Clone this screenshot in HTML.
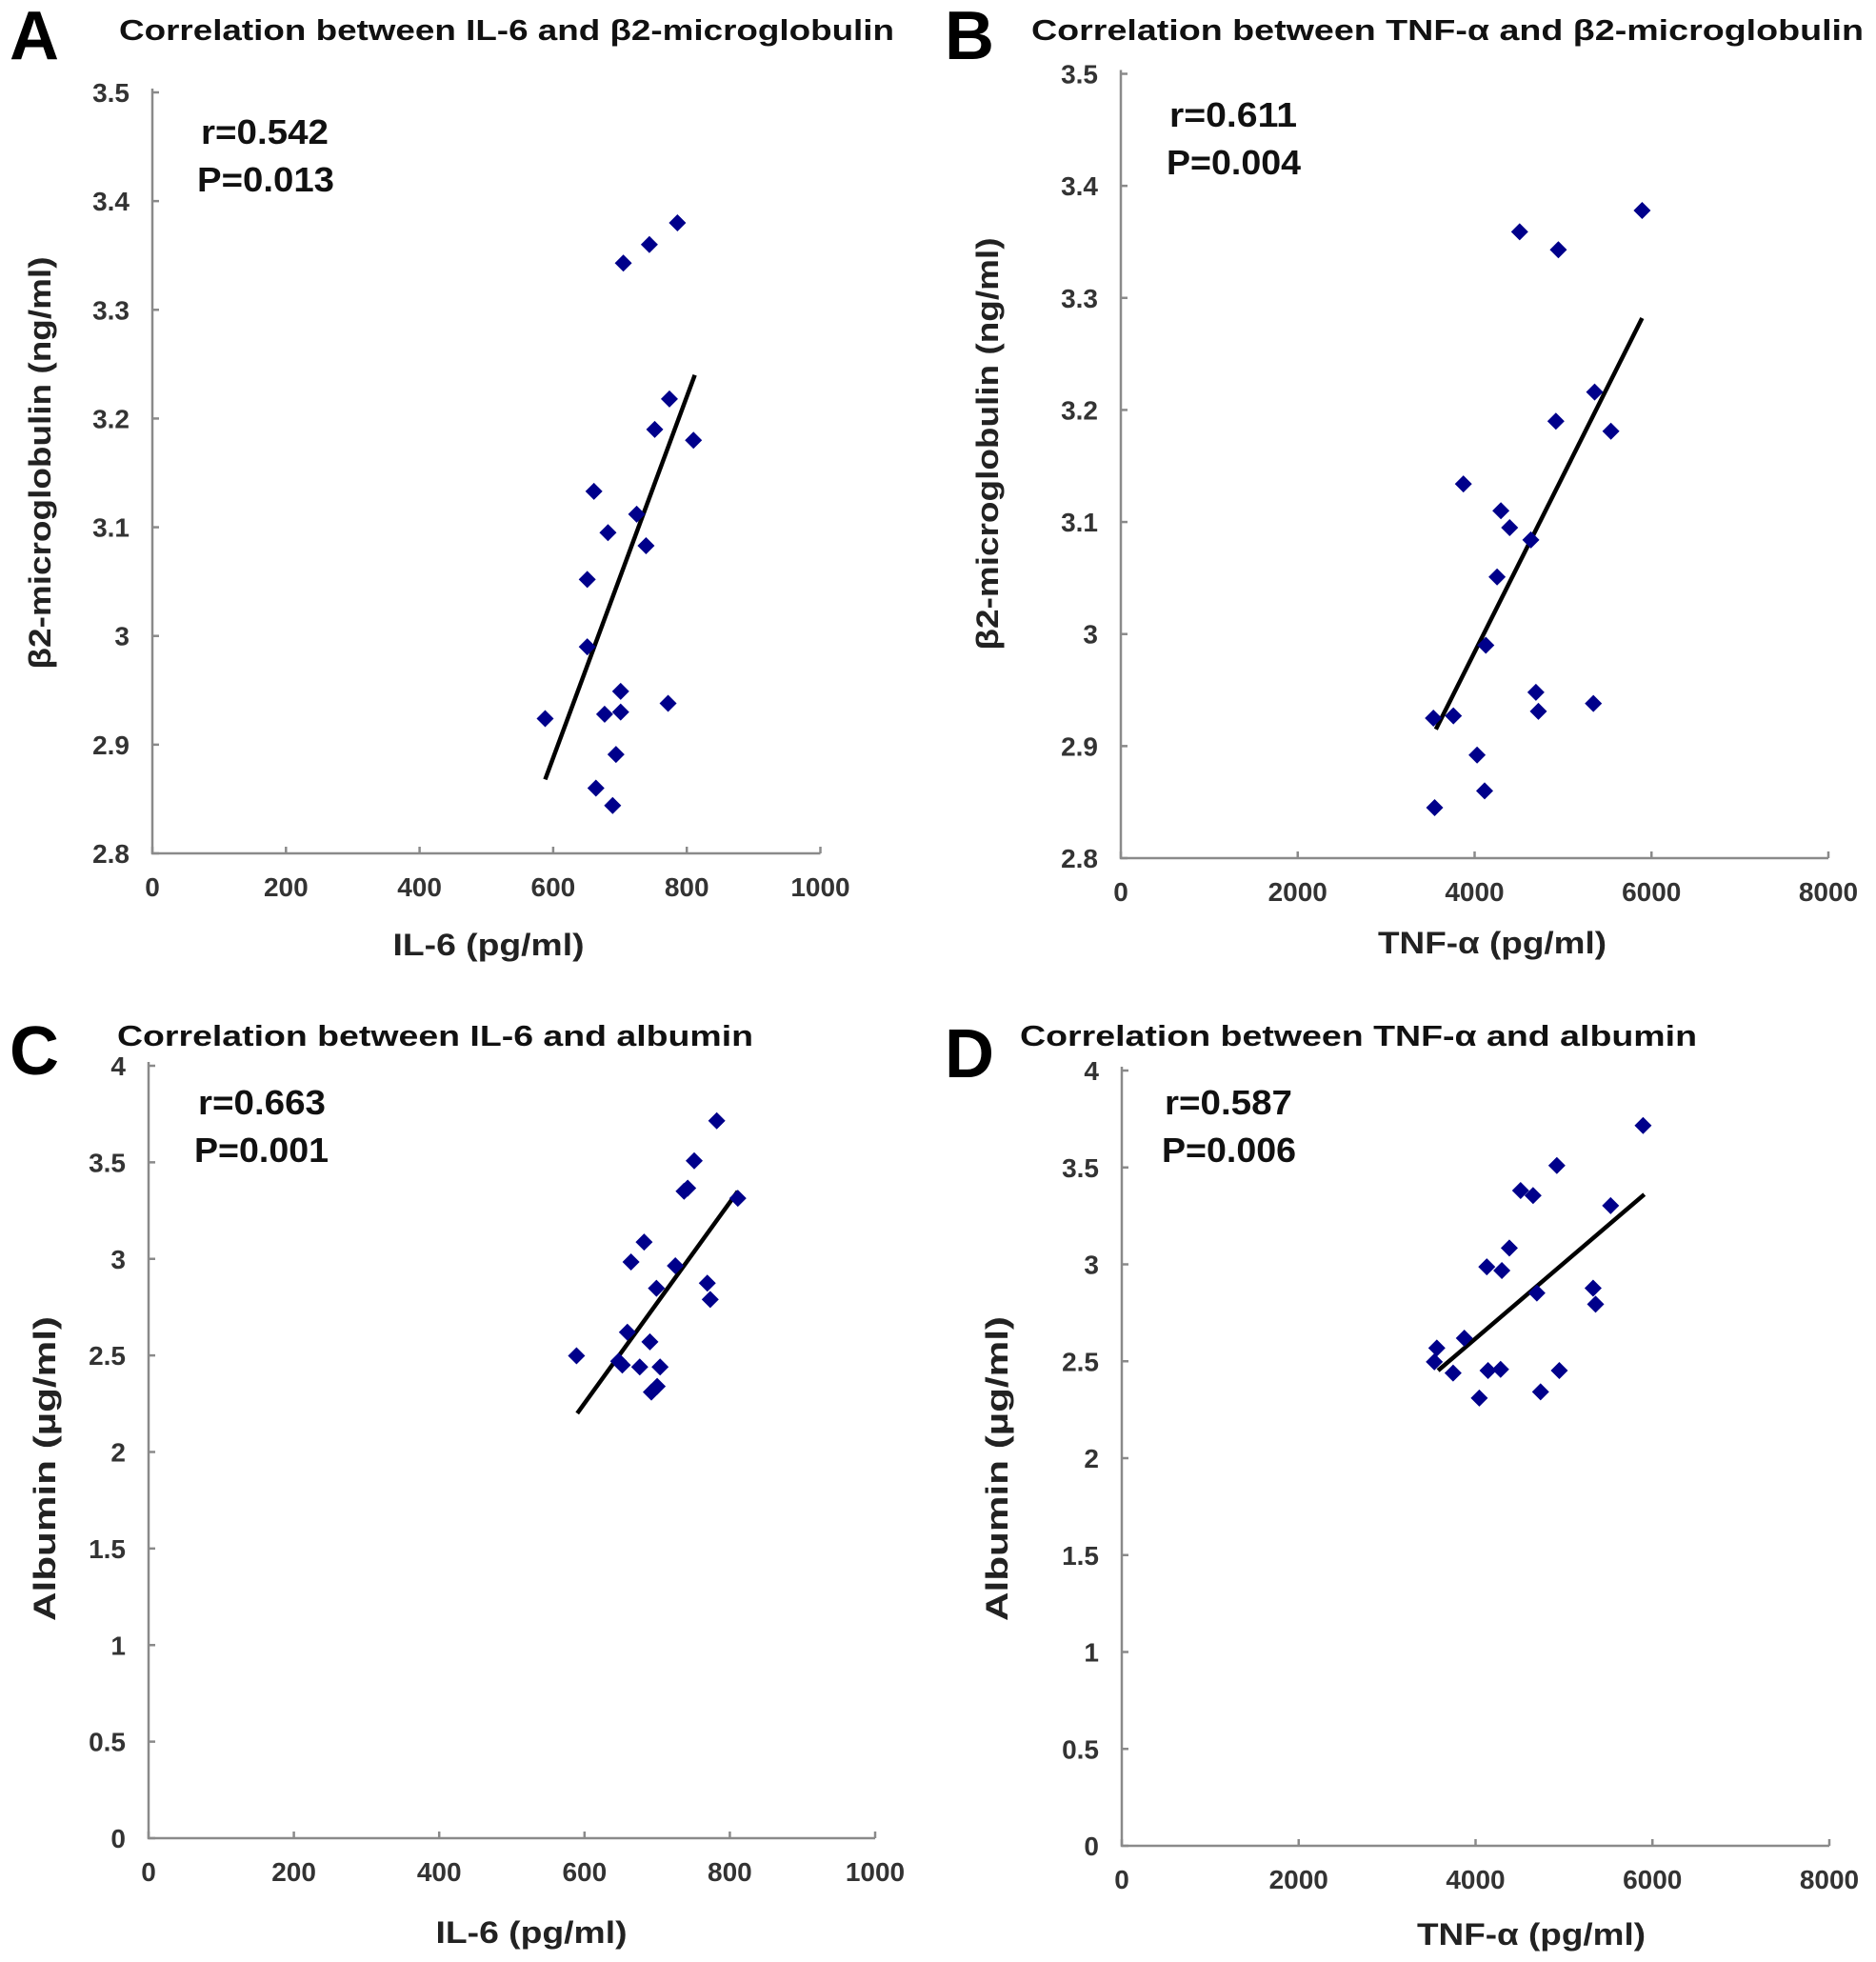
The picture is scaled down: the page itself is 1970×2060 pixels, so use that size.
<!DOCTYPE html>
<html><head><meta charset="utf-8"><style>
html,body{margin:0;padding:0;background:#fff}
svg{display:block}
text{font-family:"Liberation Sans",sans-serif;font-weight:bold}
</style></head><body>
<svg id="fig" width="1970" height="2060" viewBox="0 0 1970 2060"></svg>
<script>
// Panel A: IL-6 vs b2-microglobulin
const aX = [786,744,705,774,752,810,661,725,682,739,651,651,701,772,677,701,588,694,664,689];
const aY = [3.380,3.360,3.343,3.218,3.190,3.180,3.133,3.112,3.095,3.083,3.052,2.990,2.949,2.938,2.928,2.930,2.924,2.891,2.860,2.844];
const aFitX = [588,812];
const aFitY = [2.868,3.240];
// Panel B: TNF-a vs b2-microglobulin
const bX = [5894,4509,4947,5357,4919,5541,3873,4297,4396,4636,4254,4127,4693,5343,4721,3760,3534,4028,4113,3548];
const bY = [3.378,3.359,3.343,3.216,3.190,3.181,3.134,3.110,3.095,3.084,3.051,2.990,2.948,2.938,2.931,2.927,2.925,2.892,2.860,2.845];
const bFitX = [3562,5894];
const bFitY = [2.915,3.282];
// Panel C: IL-6 vs albumin
const cX = [589,782,751,742,737,811,682,664,725,699,769,773,659,690,647,652,676,704,700,692];
const cY = [2.498,3.715,3.508,3.366,3.35,3.314,3.087,2.984,2.964,2.848,2.874,2.79,2.62,2.57,2.47,2.45,2.44,2.44,2.34,2.31];
const cFitX = [590,811];
const cFitY = [2.20,3.35];
// Panel D: TNF-a vs albumin
const dX = [5894,4919,4509,4650,5527,4382,4127,4297,4693,5329,5357,3873,3562,3534,3746,4141,4283,4947,4735,4042];
const dY = [3.716,3.510,3.381,3.355,3.303,3.084,2.987,2.968,2.852,2.877,2.794,2.619,2.568,2.497,2.439,2.452,2.458,2.452,2.342,2.310];
const dFitX = [3576,5908];
const dFitY = [2.452,3.361];
// tick labels
const ticksIL6 = [0,200,400,600,800,1000];
const ticksTNF = [0,2000,4000,6000,8000];
const ticksB2M = ["2.8","2.9","3","3.1","3.2","3.3","3.4","3.5"];
const ticksAlb = ["0","0.5","1","1.5","2","2.5","3","3.5","4"];

const NS="http://www.w3.org/2000/svg";
const svg=document.getElementById('fig');
function mk(tag,attrs,parent){const e=document.createElementNS(NS,tag);for(const k in attrs)e.setAttribute(k,attrs[k]);(parent||svg).appendChild(e);return e;}
function txt(s,attrs,parent){const e=mk('text',attrs,parent);e.textContent=s;return e;}

function panel(cfg){
  const g=mk('g',{});
  
  
  const sx=v=>cfg.x0+(v-cfg.xmin)/(cfg.xmax-cfg.xmin)*(cfg.x1-cfg.x0);
  const sy=v=>cfg.y0-(v-cfg.ymin)/(cfg.ymax-cfg.ymin)*(cfg.y0-cfg.y1);
  const L=txt(cfg.id,{x:cfg.letter[0],y:cfg.letter[1],'font-size':72,fill:'#000'},g);
  
  
  const T=txt(cfg.title,{x:cfg.title0,y:cfg.titleY,'font-size':31,fill:'#111',textLength:cfg.title1-cfg.title0,lengthAdjust:'spacingAndGlyphs'},g);
  
  
  const ax=mk('path',{d:`M${cfg.x0},${cfg.y1-4}V${cfg.y0}H${cfg.x1}`,stroke:'#8a8a8a','stroke-width':2.5,fill:'none'},g);
  
  
  cfg.xt.forEach(v=>{
    const X=sx(+v);
    mk('line',{x1:X,x2:X,y1:cfg.y0,y2:cfg.y0-7,stroke:'#8a8a8a','stroke-width':2.5},g);
    const t=txt(String(v),{x:X,y:cfg.y0+45,'font-size':28,fill:'#333','text-anchor':'middle'},g);
    
    
  });
  cfg.yt.forEach(v=>{
    const Y=sy(+v);
    mk('line',{x1:cfg.x0,x2:cfg.x0+7,y1:Y,y2:Y,stroke:'#8a8a8a','stroke-width':2.5},g);
    const t=txt(v,{x:cfg.x0-24,y:Y+10,'font-size':28,fill:'#333','text-anchor':'end'},g);
    
    
  });
  const xt=txt(cfg.xlabel,{x:cfg.xl[0],y:cfg.xl[1],'font-size':32,fill:'#222','text-anchor':'middle',textLength:cfg.xl[2],lengthAdjust:'spacingAndGlyphs'},g);
  
  
  const yt=txt(cfg.ylabel,{x:0,y:0,'font-size':32,fill:'#222','text-anchor':'middle',textLength:cfg.yl[2],lengthAdjust:'spacingAndGlyphs',transform:`translate(${cfg.yl[0]},${cfg.yl[1]}) rotate(-90)`},g);
  
  
  const r=txt(cfg.r,{x:cfg.rp[0],y:cfg.rp[1],'font-size':36,fill:'#111',textLength:cfg.rp[2],lengthAdjust:'spacingAndGlyphs'},g);
  
  
  const p=txt(cfg.p,{x:cfg.pp[0],y:cfg.pp[1],'font-size':36,fill:'#111',textLength:cfg.pp[2],lengthAdjust:'spacingAndGlyphs'},g);
  
  
  const fit=mk('line',{x1:sx(cfg.fx[0]),y1:sy(cfg.fy[0]),x2:sx(cfg.fx[1]),y2:sy(cfg.fy[1]),stroke:'#000','stroke-width':4.5},g);
  
  
  cfg.xs.forEach((v,i)=>{
    const X=sx(v),Y=sy(cfg.ys[i]),s=9;
    const d=mk('path',{d:`M${X},${Y-s}L${X+s},${Y}L${X},${Y+s}L${X-s},${Y}Z`,fill:'#00008b'},g);
    
    
  });
}

panel({id:'A',x0:160,x1:861.5,xmin:0,xmax:1000,y0:896,y1:97,ymin:2.8,ymax:3.5,
  letter:[10,62],title:'Correlation between IL-6 and β2-microglobulin',title0:125,title1:939,titleY:42,
  xt:ticksIL6,yt:ticksB2M,xlabel:'IL-6 (pg/ml)',xl:[513,1003,201],ylabel:'β2-microglobulin (ng/ml)',yl:[53,486,433],
  r:'r=0.542',rp:[211,151,134],p:'P=0.013',pp:[207,201,144],xs:aX,ys:aY,fx:aFitX,fy:aFitY});
panel({id:'B',x0:1177,x1:1920,xmin:0,xmax:8000,y0:901,y1:77.5,ymin:2.8,ymax:3.5,
  letter:[992,62],title:'Correlation between TNF-α and β2-microglobulin',title0:1083,title1:1957,titleY:42,
  xt:ticksTNF,yt:ticksB2M,xlabel:'TNF-α (pg/ml)',xl:[1567,1001,240],ylabel:'β2-microglobulin (ng/ml)',yl:[1048,466,433],
  r:'r=0.611',rp:[1228,133,134],p:'P=0.004',pp:[1225,183,141],xs:bX,ys:bY,fx:bFitX,fy:bFitY});
panel({id:'C',x0:156,x1:919,xmin:0,xmax:1000,y0:1930,y1:1119,ymin:0,ymax:4,
  letter:[10,1128],title:'Correlation between IL-6 and albumin',title0:123,title1:791,titleY:1098,
  xt:ticksIL6,yt:ticksAlb,xlabel:'IL-6 (pg/ml)',xl:[558,2040,201],ylabel:'Albumin (µg/ml)',yl:[58,1542,320],
  r:'r=0.663',rp:[208,1170,134],p:'P=0.001',pp:[204,1220,141],xs:cX,ys:cY,fx:cFitX,fy:cFitY});
panel({id:'D',x0:1178,x1:1921,xmin:0,xmax:8000,y0:1938,y1:1124,ymin:0,ymax:4,
  letter:[992,1131],title:'Correlation between TNF-α and albumin',title0:1071,title1:1782,titleY:1098,
  xt:ticksTNF,yt:ticksAlb,xlabel:'TNF-α (pg/ml)',xl:[1608,2042,240],ylabel:'Albumin (µg/ml)',yl:[1058,1542,320],
  r:'r=0.587',rp:[1223,1170,134],p:'P=0.006',pp:[1220,1220,141],xs:dX,ys:dY,fx:dFitX,fy:dFitY});
</script>
</body></html>
